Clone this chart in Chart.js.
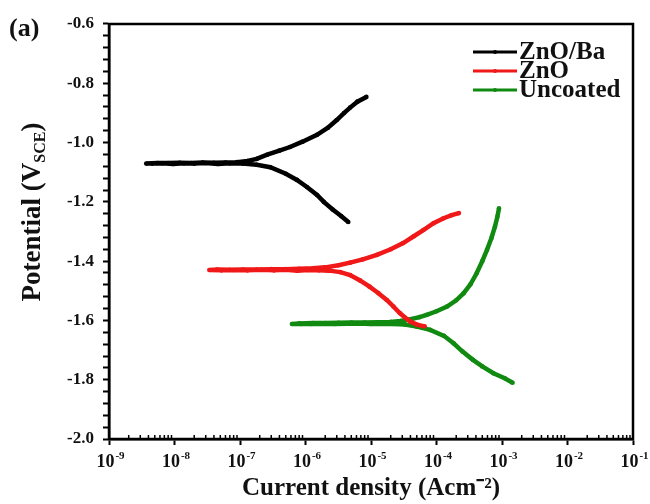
<!DOCTYPE html>
<html>
<head>
<meta charset="utf-8">
<script src="https://cdn.jsdelivr.net/npm/chart.js@4"></script>
<style>
  body { margin: 0; background: #fff; }
  canvas { display: block; }
</style>
</head>
<body>
<canvas id="myChart" width="650" height="504"></canvas>
<script>
// current density (A/cm2) and potential (V vs SCE)
const znoBaCurrent = [4.5e-6, 3.5e-6, 2.6e-6, 1.9e-6, 1.5e-6, 1.05e-6, 7.4e-7, 5e-7, 2.9e-7, 1.8e-7, 1.1e-7,
    7e-8, 4.6e-8, 3e-8, 2e-8, 1.4e-8, 9.5e-9, 6.5e-9, 4.6e-9, 3.7e-9,
    5.5e-9, 8e-9, 1.2e-8, 1.8e-8, 2.7e-8, 4e-8, 6e-8, 9e-8, 1.3e-7,
    1.8e-7, 2.6e-7, 4e-7, 5.8e-7, 9e-7, 1.5e-6, 2.2e-6, 3e-6, 3.9e-6, 4.8e-6, 6.2e-6, 8.5e-6];
const znoBaPotential = [-1.268, -1.248, -1.226, -1.200, -1.177, -1.150, -1.126, -1.105, -1.083, -1.075, -1.071,
    -1.070, -1.072, -1.069, -1.071, -1.070, -1.072, -1.070, -1.071, -1.071,
    -1.069, -1.069, -1.068, -1.069, -1.067, -1.068, -1.067, -1.066, -1.062,
    -1.055, -1.041, -1.027, -1.015, -0.997, -0.974, -0.950, -0.924, -0.900, -0.882, -0.862, -0.846];

const znoCurrent = [6.6e-5, 5e-5, 4e-5, 3.3e-5, 2.75e-5, 2.2e-5, 1.74e-5, 1.3e-5, 9.5e-6, 6.8e-6, 4.8e-6, 3.4e-6, 2.3e-6,
    1.6e-6, 1.1e-6, 7.5e-7, 5e-7, 3.3e-7, 2.1e-7, 1.3e-7, 8e-8, 5.2e-8, 3.4e-8,
    4.5e-8, 7e-8, 1.1e-7, 1.8e-7, 3e-7, 5e-7, 8e-7, 1.3e-6, 2e-6,
    3.2e-6, 4.8e-6, 7.5e-6, 1.23e-5, 2e-5, 3.1e-5, 4.5e-5, 6.3e-5, 9e-5, 1.26e-4, 1.7e-4, 2.2e-4];
const znoPotential = [-1.620, -1.614, -1.604, -1.590, -1.575, -1.553, -1.531, -1.508, -1.486, -1.465, -1.447, -1.437, -1.432,
    -1.431, -1.430, -1.432, -1.429, -1.431, -1.429, -1.431, -1.430, -1.431, -1.430,
    -1.428, -1.429, -1.428, -1.428, -1.427, -1.427, -1.426, -1.424, -1.421,
    -1.414, -1.405, -1.394, -1.379, -1.360, -1.339, -1.316, -1.295, -1.272, -1.256, -1.245, -1.238];

const uncoatedCurrent = [1.45e-3, 1.1e-3, 7.4e-4, 5e-4, 3.6e-4, 2.5e-4, 1.82e-4, 1.3e-4, 8e-5, 5e-5, 3.3e-5,
    2.2e-5, 1.5e-5, 1e-5, 6.5e-6, 4.3e-6, 2.8e-6, 1.8e-6, 1.2e-6, 8.5e-7, 6.2e-7,
    8e-7, 1.3e-6, 2e-6, 3.2e-6, 5e-6, 8e-6, 1.3e-5, 2e-5, 2.8e-5,
    4e-5, 5.5e-5, 7.1e-5, 1e-4, 1.45e-4, 2e-4, 2.6e-4, 3.3e-4, 4.1e-4, 5e-4, 5.9e-4, 6.9e-4, 7.8e-4, 8.5e-4, 9e-4];
const uncoatedPotential = [-1.810, -1.795, -1.778, -1.755, -1.733, -1.705, -1.677, -1.652, -1.632, -1.621, -1.614,
    -1.612, -1.611, -1.612, -1.610, -1.611, -1.612, -1.611, -1.612, -1.612, -1.612,
    -1.610, -1.609, -1.609, -1.608, -1.607, -1.607, -1.606, -1.605, -1.602,
    -1.596, -1.589, -1.581, -1.569, -1.553, -1.532, -1.508, -1.478, -1.441, -1.400, -1.362, -1.322, -1.284, -1.250, -1.222];

const seriesLabels = ["ZnO/Ba", "ZnO", "Uncoated"];
const seriesColors = ["#000000", "#f01818", "#108a10"];

const xMajorTicks = [1e-9, 1e-8, 1e-7, 1e-6, 1e-5, 1e-4, 1e-3, 1e-2, 1e-1];
const xTickExponents = ["-9", "-8", "-7", "-6", "-5", "-4", "-3", "-2", "-1"];
const yMajorTicks = [-2.0, -1.8, -1.6, -1.4, -1.2, -1.0, -0.8, -0.6];
const yTickLabels = ["-2.0", "-1.8", "-1.6", "-1.4", "-1.2", "-1.0", "-0.8", "-0.6"];

const serif = "'Liberation Serif', 'Times New Roman', serif";

function toPoints(xs, ys) {
    return xs.map((x, i) => ({ x: x, y: ys[i] }));
}

const datasets = [
    toPoints(znoBaCurrent, znoBaPotential),
    toPoints(znoCurrent, znoPotential),
    toPoints(uncoatedCurrent, uncoatedPotential),
].map((pts, i) => ({
    label: seriesLabels[i],
    data: pts,
    showLine: true,
    borderColor: seriesColors[i],
    backgroundColor: seriesColors[i],
    borderWidth: 4.5,
    pointRadius: 2.3,
    pointBorderWidth: 0,
    tension: 0,
}));

// frame, minor ticks on x, x tick labels with superscripts,
// y title with subscript, legend and panel label
const extras = {
    id: "extras",
    afterDraw(chart) {
        const c = chart.ctx;
        const a = chart.chartArea;
        const xs = chart.scales.x;
        c.save();
        c.strokeStyle = "#000";
        c.lineWidth = 2.5;
        c.strokeRect(a.left, a.top, a.right - a.left, a.bottom - a.top);

        c.lineWidth = 1.5;
        c.beginPath();
        for (let n = -9; n < -1; n++) {
            for (let k = 2; k < 10; k++) {
                const px = xs.getPixelForValue(k * Math.pow(10, n));
                c.moveTo(px, a.bottom);
                c.lineTo(px, a.bottom - 4);
            }
        }
        c.stroke();

        // x tick labels: 10 with raised exponent
        c.fillStyle = "#111";
        c.textBaseline = "alphabetic";
        c.textAlign = "left";
        xMajorTicks.forEach((v, i) => {
            const px = xs.getPixelForValue(v);
            c.font = "bold 18px " + serif;
            const wb = c.measureText("10").width;
            c.font = "bold 11px " + serif;
            const we = c.measureText(xTickExponents[i]).width;
            const x0 = px - (wb + we) / 2 + 1;
            c.font = "bold 18px " + serif;
            c.fillText("10", x0, 467);
            c.font = "bold 11px " + serif;
            c.fillText(xTickExponents[i], x0 + wb + 1, 459);
        });

        // y title
        c.save();
        c.translate(40, 212);
        c.rotate(-Math.PI / 2);
        c.fillStyle = "#111";
        const big = "bold 27px " + serif;
        const small = "bold 16px " + serif;
        c.font = big;
        const w1 = c.measureText("Potential (V").width;
        const w3 = c.measureText(")").width;
        c.font = small;
        const w2 = c.measureText("SCE").width;
        const t0 = -(w1 + w2 + w3) / 2;
        c.font = big;
        c.fillText("Potential (V", t0, 0);
        c.font = small;
        c.fillText("SCE", t0 + w1, 5);
        c.font = big;
        c.fillText(")", t0 + w1 + w2, 0);
        c.restore();

        // legend
        c.font = "bold 25px " + serif;
        chart.data.datasets.forEach((ds, i) => {
            const ly = 52 + i * 19;
            c.strokeStyle = ds.borderColor;
            c.lineWidth = 3;
            c.beginPath();
            c.moveTo(473, ly);
            c.lineTo(517, ly);
            c.stroke();
            c.fillStyle = ds.borderColor;
            c.beginPath();
            c.arc(495, ly, 2, 0, Math.PI * 2);
            c.fill();
            c.fillStyle = "#111";
            c.fillText(ds.label, 519, ly + 7);
        });

        c.font = "bold 26px " + serif;
        c.fillText("(a)", 9, 36);
        c.restore();
    },
};

const ctx = document.getElementById("myChart");

new Chart(ctx, {
    type: "scatter",
    data: { datasets: datasets },
    options: {
        responsive: false,
        animation: false,
        layout: { padding: { top: 24, right: 17, left: 0, bottom: 0 } },
        plugins: {
            legend: { display: false },
            tooltip: { enabled: false },
        },
        scales: {
            x: {
                type: "logarithmic",
                min: 1e-9,
                max: 1e-1,
                afterFit: (s) => { s.height = 65; },
                afterBuildTicks: (s) => { s.ticks = xMajorTicks.map((v) => ({ value: v })); },
                ticks: {
                    autoSkip: false,
                    maxRotation: 0,
                    callback: () => "",
                },
                grid: { drawOnChartArea: false, tickLength: 6, tickWidth: 2, tickColor: "#000" },
                border: { color: "#000", width: 2.5 },
                title: {
                    display: true,
                    text: "Current density (Acm⁻²)",
                    color: "#111",
                    font: { family: serif, size: 25, weight: "bold" },
                    padding: { top: 0, bottom: 0 },
                },
            },
            y: {
                min: -2.0,
                max: -0.6,
                afterFit: (s) => { s.width = 109; },
                afterBuildTicks: (s) => {
                    const t = [];
                    for (let i = 0; i <= 35; i++) t.push({ value: -2.0 + i * 0.04 });
                    s.ticks = t;
                },
                ticks: {
                    autoSkip: false,
                    padding: 9,
                    color: "#111",
                    font: { family: serif, size: 17, weight: "bold" },
                    callback: (v) => {
                        const i = yMajorTicks.findIndex((m) => Math.abs(m - v) < 1e-6);
                        return i >= 0 ? yTickLabels[i] : "";
                    },
                },
                grid: { drawOnChartArea: false, tickLength: 6, tickWidth: 2, tickColor: "#000" },
                border: { color: "#000", width: 2.5 },
            },
        },
    },
    plugins: [extras],
});
</script>
</body>
</html>
